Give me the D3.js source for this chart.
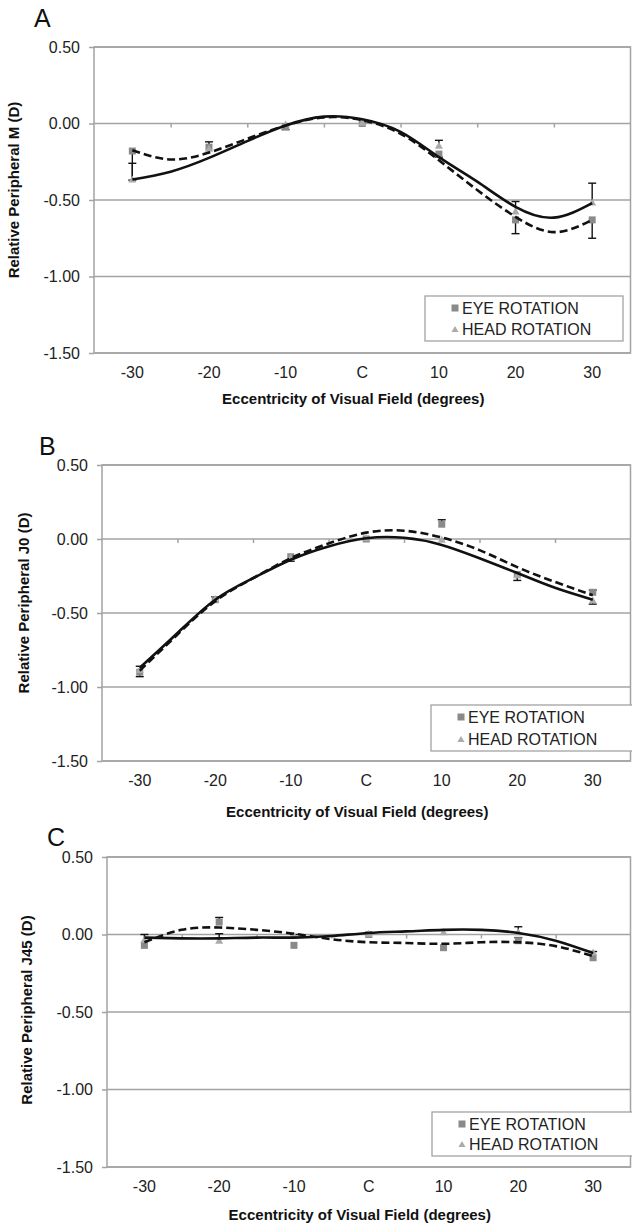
<!DOCTYPE html>
<html lang="en">
<head>
<meta charset="UTF-8">
<title>Relative peripheral refraction</title>
<style>
    body {
        margin: 0;
        padding: 0;
        background: #fff;
        font-family: "Liberation Sans", Arial, sans-serif;
    }
    .tick text {
        font-size: 16px;
        fill: #222;
    }
    .title {
        font-size: 15px;
        font-weight: bold;
        fill: #111;
    }
    .legend text {
        font-size: 16px;
        fill: #222;
    }
</style>
</head>
<body>
<svg id="chart" width="632" height="1226"></svg>

<script src="https://d3js.org/d3.v7.min.js"></script>
<script>
    // categories and ticks
    const categories = ["-30", "-20", "-10", "C", "10", "20", "30"];
    const yTicks = [0.5, 0, -0.5, -1, -1.5];
    const trendDegrees = [-30, -25, -20, -15, -10, -5, 0, 5, 10, 15, 20, 25, 30];

    // Panel A - M
    const aEye = [-0.18, -0.155, -0.02, 0.00, -0.20, -0.63, -0.63];
    const aHead = [-0.37, -0.17, -0.01, 0.00, -0.15, -0.58, -0.52];
    const aEyeErr = [[0.19, 0], [0, 0], [0.02, 0], [0, 0], [0.02, 0], [0.09, 0], [0.12, 0]];   // [down, up]
    const aHeadErr = [[0, 0.11], [0, 0.05], [0, 0], [0, 0], [0, 0.04], [0, 0.07], [0, 0.13]];
    const aEyeTrend = [-0.175, -0.235, -0.19, -0.10, -0.013, 0.04, 0.022, -0.067, -0.24, -0.435, -0.61, -0.71, -0.63];
    const aHeadTrend = [-0.366, -0.315, -0.225, -0.115, -0.013, 0.045, 0.028, -0.055, -0.22, -0.38, -0.545, -0.615, -0.52];

    // Panel B - J0
    const bEye = [-0.90, -0.41, -0.12, 0.00, 0.10, -0.24, -0.36];
    const bHead = [-0.89, -0.41, -0.13, 0.00, -0.01, -0.25, -0.42];
    const bEyeErr = [[0.03, 0], [0, 0.02], [0.03, 0], [0, 0], [0, 0.03], [0.04, 0], [0, 0.015]];
    const bHeadErr = [[0, 0.03], [0, 0], [0, 0], [0, 0], [0, 0], [0, 0], [0.02, 0]];
    const bEyeTrend = [-0.89, -0.645, -0.42, -0.265, -0.13, -0.03, 0.043, 0.056, 0.01, -0.075, -0.19, -0.29, -0.38];
    const bHeadTrend = [-0.87, -0.635, -0.41, -0.265, -0.14, -0.05, 0.005, 0.008, -0.04, -0.13, -0.23, -0.33, -0.41];

    // Panel C - J45
    const cEye = [-0.07, 0.08, -0.07, 0.00, -0.085, -0.04, -0.15];
    const cHead = [-0.04, -0.045, -0.01, 0.00, 0.01, 0.01, -0.12];
    const cEyeErr = [[0, 0], [0, 0.03], [0, 0], [0, 0], [0, 0], [0, 0.02], [0, 0.04]];
    const cHeadErr = [[0, 0.04], [0, 0.05], [0, 0.01], [0, 0], [0, 0], [0, 0.04], [0, 0]];
    const cEyeTrend = [-0.05, 0.03, 0.045, 0.03, 0.005, -0.03, -0.05, -0.055, -0.06, -0.05, -0.05, -0.075, -0.14];
    const cHeadTrend = [-0.02, -0.025, -0.025, -0.02, -0.02, -0.01, 0.01, 0.02, 0.03, 0.03, 0.01, -0.04, -0.12];

    const panels = [
        { letter: "A", yTitle: "Relative Peripheral  M (D)", eye: aEye, head: aHead, eyeErr: aEyeErr, headErr: aHeadErr,
          eyeTrend: aEyeTrend, headTrend: aHeadTrend,
          left: 94, right: 630.5, top: 47, bottom: 353, letterPos: [34, 27], yTitlePos: [14, 190], xTitleY: 399,
          legend: { x: 425, y: 296, w: 198, h: 45 } },
        { letter: "B", yTitle: "Relative Peripheral J0 (D)", eye: bEye, head: bHead, eyeErr: bEyeErr, headErr: bHeadErr,
          eyeTrend: bEyeTrend, headTrend: bHeadTrend,
          left: 102, right: 630.5, top: 465, bottom: 761, letterPos: [39, 455], yTitlePos: [24, 603], xTitleY: 812,
          legend: { x: 431, y: 705, w: 205, h: 46 } },
        { letter: "C", yTitle: "Relative Peripheral  J45 (D)", eye: cEye, head: cHead, eyeErr: cEyeErr, headErr: cHeadErr,
          eyeTrend: cEyeTrend, headTrend: cHeadTrend,
          left: 107, right: 630.5, top: 857, bottom: 1167, letterPos: [47, 846], yTitlePos: [27, 1010], xTitleY: 1215,
          legend: { x: 432, y: 1112, w: 205, h: 44 } }
    ];

    const svg = d3.select("#chart");
    const gridColor = "#a3a3a3";
    const eyeColor = "#8a8a8a";
    const headColor = "#ababab";

    function drawPanel(p) {
        const g = svg.append("g");

        const x = d3.scaleBand().domain(categories).range([p.left, p.right]);
        const half = x.bandwidth() / 2;
        const xd = d3.scaleLinear().domain([-30, 30]).range([x("-30") + half, x("30") + half]);
        const y = d3.scaleLinear().domain([-1.5, 0.5]).range([p.bottom, p.top]);

        // gridlines
        g.selectAll(".grid")
            .data(yTicks)
            .enter().append("line")
            .attr("x1", p.left).attr("x2", p.right)
            .attr("y1", d => y(d)).attr("y2", d => y(d))
            .attr("stroke", gridColor)
            .attr("stroke-width", 1.5);

        // plot border
        g.append("rect")
            .attr("x", p.left).attr("y", p.top)
            .attr("width", p.right - p.left).attr("height", p.bottom - p.top)
            .attr("fill", "none")
            .attr("stroke", gridColor)
            .attr("stroke-width", 1.5);

        // y axis
        const yAxis = g.append("g")
            .attr("transform", `translate(${p.left},0)`)
            .call(d3.axisLeft(y).tickValues(yTicks).tickFormat(d => d.toFixed(2)).tickSize(5).tickPadding(9));
        yAxis.select(".domain").remove();
        yAxis.selectAll(".tick line").attr("stroke", gridColor).attr("stroke-width", 1.5);
        yAxis.selectAll("text").attr("font-family", "Liberation Sans, Arial, sans-serif");

        // x labels at the bottom
        const xAxis = g.append("g")
            .attr("transform", `translate(0,${p.bottom})`)
            .call(d3.axisBottom(x).tickSize(0).tickPadding(14));
        xAxis.select(".domain").remove();
        xAxis.selectAll("text").attr("font-family", "Liberation Sans, Arial, sans-serif");

        // tick marks on the zero line, between categories
        const xb = d3.scaleLinear().domain([0, categories.length]).range([p.left, p.right]);
        const zeroAxis = g.append("g")
            .attr("transform", `translate(0,${y(0)})`)
            .call(d3.axisBottom(xb).tickValues(d3.range(1, categories.length)).tickFormat("").tickSize(4));
        zeroAxis.select(".domain").remove();
        zeroAxis.selectAll(".tick line").attr("stroke", gridColor).attr("stroke-width", 1.5);

        // error bars
        const errGroup = g.append("g").attr("stroke", "#111").attr("stroke-width", 1.4);
        [[p.eye, p.eyeErr], [p.head, p.headErr]].forEach(([vals, errs]) => {
            vals.forEach((v, i) => {
                const cx = x(categories[i]) + half;
                const lo = v - errs[i][0];
                const hi = v + errs[i][1];
                if (errs[i][0] === 0 && errs[i][1] === 0) return;
                errGroup.append("line")
                    .attr("x1", cx).attr("x2", cx)
                    .attr("y1", y(lo)).attr("y2", y(hi));
                if (errs[i][0] > 0) {
                    errGroup.append("line").attr("x1", cx - 4).attr("x2", cx + 4)
                        .attr("y1", y(lo)).attr("y2", y(lo));
                }
                if (errs[i][1] > 0) {
                    errGroup.append("line").attr("x1", cx - 4).attr("x2", cx + 4)
                        .attr("y1", y(hi)).attr("y2", y(hi));
                }
            });
        });

        // markers
        g.selectAll(".eye")
            .data(p.eye)
            .enter().append("rect")
            .attr("x", (d, i) => x(categories[i]) + half - 3.5)
            .attr("y", d => y(d) - 3.5)
            .attr("width", 7).attr("height", 7)
            .attr("fill", eyeColor);

        const tri = d3.symbol().type(d3.symbolTriangle).size(28);
        g.selectAll(".head")
            .data(p.head)
            .enter().append("path")
            .attr("d", tri)
            .attr("transform", (d, i) => `translate(${x(categories[i]) + half},${y(d)})`)
            .attr("fill", headColor);

        // trendlines
        const line = d3.line()
            .x(d => xd(d[0]))
            .y(d => y(d[1]))
            .curve(d3.curveNatural);

        g.append("path")
            .attr("d", line(trendDegrees.map((d, i) => [d, p.headTrend[i]])))
            .attr("fill", "none")
            .attr("stroke", "#111")
            .attr("stroke-width", 2.6);

        g.append("path")
            .attr("d", line(trendDegrees.map((d, i) => [d, p.eyeTrend[i]])))
            .attr("fill", "none")
            .attr("stroke", "#111")
            .attr("stroke-width", 2.6)
            .attr("stroke-dasharray", "8,4");

        // legend
        const lg = g.append("g").attr("class", "legend");
        lg.append("rect")
            .attr("x", p.legend.x).attr("y", p.legend.y)
            .attr("width", p.legend.w).attr("height", p.legend.h)
            .attr("fill", "#fff")
            .attr("stroke", gridColor)
            .attr("stroke-width", 1.3);
        const mx = p.legend.x + 30;
        const row1 = p.legend.y + 12;
        const row2 = p.legend.y + p.legend.h - 12;
        lg.append("rect")
            .attr("x", mx - 3.5).attr("y", row1 - 3.5)
            .attr("width", 7).attr("height", 7)
            .attr("fill", eyeColor);
        lg.append("path")
            .attr("d", d3.symbol().type(d3.symbolTriangle).size(22))
            .attr("transform", `translate(${mx},${row2 + 1})`)
            .attr("fill", headColor);
        lg.append("text").attr("x", mx + 7).attr("y", row1).attr("dy", "0.36em").text("EYE ROTATION");
        lg.append("text").attr("x", mx + 7).attr("y", row2).attr("dy", "0.36em").text("HEAD ROTATION");

        // titles
        g.append("text")
            .attr("x", p.letterPos[0]).attr("y", p.letterPos[1])
            .attr("font-size", 25)
            .attr("fill", "#111")
            .text(p.letter);

        g.append("text")
            .attr("class", "title")
            .attr("text-anchor", "middle")
            .attr("dy", "0.36em")
            .attr("transform", `translate(${p.yTitlePos[0]},${p.yTitlePos[1]}) rotate(-90)`)
            .text(p.yTitle);

        g.append("text")
            .attr("class", "title")
            .attr("text-anchor", "middle")
            .attr("x", (p.left + p.right) / 2 - 9)
            .attr("y", p.xTitleY)
            .attr("dy", "0.36em")
            .text("Eccentricity of Visual Field (degrees)");
    }

    panels.forEach(drawPanel);
</script>
</body>
</html>
